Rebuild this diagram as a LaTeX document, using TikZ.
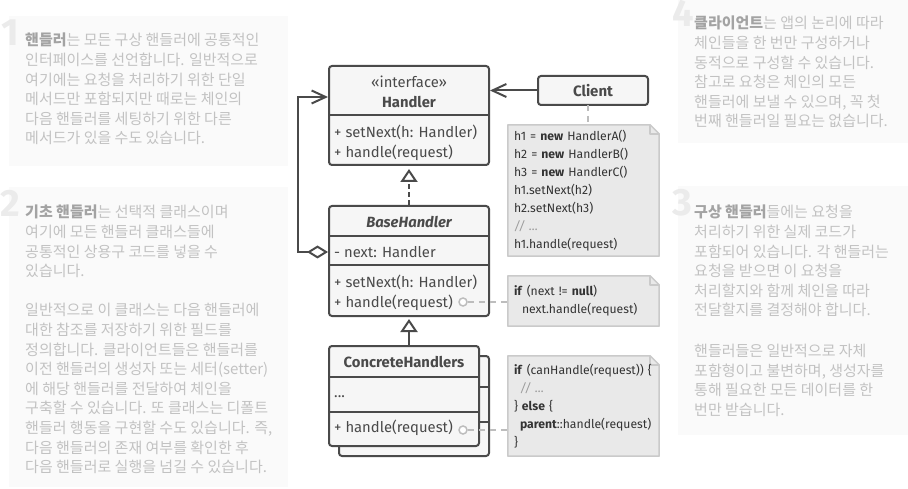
\documentclass[tikz,border=0pt]{standalone}
\usepackage{fontspec}
\setmainfont{Fira Sans}
\newfontfamily\krfont{Noto Sans CJK KR}
\usetikzlibrary{arrows.meta,backgrounds,positioning}

\definecolor{linegray}{HTML}{4A4A4A}
\definecolor{boxfill}{HTML}{F6F6F6}
\definecolor{notefill}{HTML}{E9E9E9}
\definecolor{noteborder}{HTML}{CACACA}
\definecolor{linkgray}{HTML}{BDBDBD}
\definecolor{panelfill}{HTML}{FAFAFA}
\definecolor{hinttext}{HTML}{C2C2C2}
\definecolor{hintbold}{HTML}{A3A3A3}
\definecolor{numgray}{HTML}{EBEBEB}
\definecolor{commentgray}{HTML}{9A9A9A}

\newcommand{\kb}[1]{{\bfseries\color{hintbold}#1}}
\newcommand{\cmt}[1]{{\color{commentgray}\itshape #1}}
\newcommand{\codeline}[1]{\mbox{#1}}
% note with folded corner, drawn behind the named node
\newcommand{\notefold}[1]{%
  \begin{scope}[on background layer]
    \draw[notebox] (#1.north west) -- ([xshift=-9pt]#1.north east) -- ([yshift=-9pt]#1.north east)
      -- (#1.south east) -- (#1.south west) -- cycle;
    \draw[notebox, fill=none] ([xshift=-9pt]#1.north east) |- ([yshift=-9pt]#1.north east);
  \end{scope}}

\begin{document}
\begin{tikzpicture}[x=1pt, y=-1pt,
	umlbox/.style={draw=linegray, fill=boxfill, line width=2pt, rounded corners=3pt, inner sep=0pt},
	umltext/.style={inner sep=0pt, text=linegray, font=\fontsize{14.8}{20}\selectfont},
	divider/.style={draw=linegray, line width=2pt},
	note/.style={inner xsep=6pt, inner ysep=0pt, text width=139pt, align=left, minimum width=151pt,
		text=black!80, font=\fontsize{12.2}{18}\selectfont},
	notebox/.style={fill=notefill, draw=noteborder, line width=1.5pt, line join=round},
	notelink/.style={draw=linkgray, line width=2pt, dash pattern=on 6pt off 5pt},
	port/.style={circle, draw=linkgray, fill=white, line width=1.5pt, minimum size=8pt, inner sep=0pt},
	assoc/.style={draw=linegray, line width=2pt, -{Straight Barb[length=14pt, width=13pt]}},
	realize/.style={draw=linegray, line width=2pt, dash pattern=on 5pt off 3pt, shorten >=3pt,
		-{Triangle[open, length=13pt, width=17pt]}},
	inherit/.style={draw=linegray, line width=2pt, shorten >=2pt, -{Triangle[open, length=13pt, width=17pt]}},
	aggr/.style={draw=linegray, line width=2pt, {Diamond[open, length=21pt, width=13pt]}-{Straight Barb[length=14pt, width=13pt]}},
	panel/.style={fill=panelfill},
	num/.style={anchor=north west, inner sep=0pt, text=numgray, font=\fontsize{38}{38}\selectfont\bfseries},
	hint/.style={anchor=north west, inner sep=0pt, align=left, text=hinttext, font=\krfont\fontsize{15}{19.6}\selectfont}]
	\useasboundingbox (0,0) rectangle (908,489);

	% hint panels
	\fill[panel] (9,16) rectangle (288,166);
	\fill[panel] (9,187) rectangle (288,487);
	\fill[panel] (678,-5) rectangle (908,143);
	\fill[panel] (678,186) rectangle (908,435);
	\node[num] (num1) at (1,20) {1};
	\node[num] (num2) at (0,190) {2};
	\node[num] (num4) at (672,0) {4};
	\node[num] (num3) at (672,189) {3};
	\node[hint] (hint1) at (25,33) {\kb{핸들러}는 모든 구상 핸들러에 공통적인\\
		인터페이스를 선언합니다. 일반적으로\\
		여기에는 요청을 처리하기 위한 단일\\
		메서드만 포함되지만 때로는 체인의\\
		다음 핸들러를 세팅하기 위한 다른\\
		메서드가 있을 수도 있습니다.};
	\node[hint] (hint2) at (25,205) {\kb{기초 핸들러}는 선택적 클래스이며\\
		여기에 모든 핸들러 클래스들에\\
		공통적인 상용구 코드를 넣을 수\\
		있습니다.\\[19.6pt]
		일반적으로 이 클래스는 다음 핸들러에\\
		대한 참조를 저장하기 위한 필드를\\
		정의합니다. 클라이언트들은 핸들러를\\
		이전 핸들러의 생성자 또는 세터(setter)\\
		에 해당 핸들러를 전달하여 체인을\\
		구축할 수 있습니다. 또 클래스는 디폴트\\
		핸들러 행동을 구현할 수도 있습니다. 즉,\\
		다음 핸들러의 존재 여부를 확인한 후\\
		다음 핸들러로 실행을 넘길 수 있습니다.};
	\node[hint] (hint4) at (694,16) {\kb{클라이언트}는 앱의 논리에 따라\\
		체인들을 한 번만 구성하거나\\
		동적으로 구성할 수 있습니다.\\
		참고로 요청은 체인의 모든\\
		핸들러에 보낼 수 있으며, 꼭 첫\\
		번째 핸들러일 필요는 없습니다.};
	\node[hint] (hint3) at (694,205) {\kb{구상 핸들러}들에는 요청을\\
		처리하기 위한 실제 코드가\\
		포함되어 있습니다. 각 핸들러는\\
		요청을 받으면 이 요청을\\
		처리할지와 함께 체인을 따라\\
		전달할지를 결정해야 합니다.\\[21pt]
		핸들러들은 일반적으로 자체\\
		포함형이고 불변하며, 생성자를\\
		통해 필요한 모든 데이터를 한\\
		번만 받습니다.};

	% Handler
	\node[umlbox, minimum width=160pt, minimum height=99pt] (handler) at (409,115.5) {};
	\node[umltext, align=center] (handlerhead) at (409,92) {«interface»\\\textbf{Handler}};
	\draw[divider] ([yshift=-50pt]handler.north west) -- ([yshift=-50pt]handler.north east);
	\node[umltext, anchor=west, align=left] (handlerops) at (334,143) {+ setNext(h: Handler)\\+ handle(request)};

	% Client
	\node[umlbox, minimum width=110pt, minimum height=29pt, font=\fontsize{15}{16}\selectfont\bfseries, text=linegray] (client) at (593,90.5) {Client};
	\coordinate (clientlink) at (588,105);
	\draw[assoc] (client) -- (client -| handler.east);

	% BaseHandler
	\node[umlbox, minimum width=160pt, minimum height=110pt] (basehandler) at (409,261) {};
	\node[umltext, font=\fontsize{14.8}{20}\selectfont\bfseries\itshape] (basename) at (409,222) {BaseHandler};
	\draw[divider] ([yshift=-31pt]basehandler.north west) -- ([yshift=-31pt]basehandler.north east);
	\node[umltext, anchor=west] (basefield) at (334,252) {- next: Handler};
	\draw[divider] ([yshift=-60pt]basehandler.north west) -- ([yshift=-60pt]basehandler.north east);
	\node[umltext, anchor=west, align=left] (baseops) at (334,292.5) {+ setNext(h: Handler)\\+ handle(request)};
	\node[port] (baseport) at (463,302) {};

	% ConcreteHandlers
	\node[umlbox, minimum width=150pt, minimum height=100pt] (concreteback) at (414,406) {};
	\draw[divider] ([yshift=-32pt]concreteback.north west) -- ([yshift=-32pt]concreteback.north east);
	\draw[divider] ([yshift=-67pt]concreteback.north west) -- ([yshift=-67pt]concreteback.north east);
	\node[umlbox, minimum width=150pt, minimum height=100pt] (concrete) at (404,396) {};
	\node[umltext, font=\fontsize{14.8}{20}\selectfont\bfseries] (concretename) at (404,362) {ConcreteHandlers};
	\draw[divider] ([yshift=-32pt]concrete.north west) -- ([yshift=-32pt]concrete.north east);
	\node[umltext, anchor=west] (concretefields) at (334,397) {...};
	\draw[divider] ([yshift=-67pt]concrete.north west) -- ([yshift=-67pt]concrete.north east);
	\node[umltext, anchor=west] (concreteops) at (334,428) {+ handle(request)};
	\node[port] (concreteport) at (463,430) {};

	% notes
	\node[note, minimum height=131pt] (clientnote) at (583.5,190.5) {\codeline{h1 = \textbf{new} HandlerA()}\\
		\codeline{h2 = \textbf{new} HandlerB()}\\
		\codeline{h3 = \textbf{new} HandlerC()}\\
		\codeline{h1.setNext(h2)}\\
		\codeline{h2.setNext(h3)}\\
		\cmt{// ...}\\
		\codeline{h1.handle(request)}};
	\notefold{clientnote}
	\node[note, minimum height=50pt] (basenote) at (583.5,301) {\codeline{\textbf{if} (next != \textbf{null})}\\
		\codeline{\hspace*{8pt}next.handle(request)}};
	\notefold{basenote}
	\node[note, minimum height=100pt] (concretenote) at (583.5,406) {\codeline{\textbf{if} (canHandle(request)) \{}\\
		\codeline{\hspace*{6pt}\cmt{// ...}}\\
		\codeline{\} \textbf{else} \{}\\
		\codeline{\hspace*{6pt}\textbf{parent}::handle(request)}\\
		\}};
	\notefold{concretenote}

	% connectors
	\draw[notelink] (clientlink) -- (clientlink |- clientnote.north);
	\draw[notelink] (baseport) -- (baseport -| basenote.west);
	\draw[notelink] (concreteport) -- (concreteport -| concretenote.west);
	\draw[realize] (basehandler.north) -- (handler.south);
	\draw[inherit] (concrete.north -| basehandler.south) -- (basehandler.south);
	\coordinate (loopcorner) at (298,252);
	\draw[aggr] (basehandler.west |- basefield) -- (loopcorner) |- ([yshift=18.5pt]handler.west);
\end{tikzpicture}
\end{document}
